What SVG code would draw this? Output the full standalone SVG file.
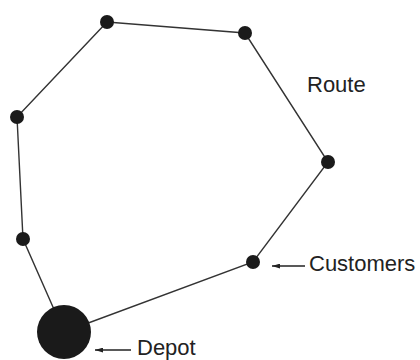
<svg xmlns="http://www.w3.org/2000/svg" width="420" height="360" viewBox="0 0 420 360">
<style>
.edge{stroke:#333;stroke-width:1.4;fill:none}
.node{fill:#1a1a1a}
.lbl{font-family:"Liberation Sans",Arial,sans-serif;font-size:22px;fill:#222}
.ptr{stroke:#222;stroke-width:1.3;fill:none;marker-end:url(#ah)}
</style>
<defs>
<marker id="ah" viewBox="0 0 10 6" refX="10" refY="3" markerWidth="8" markerHeight="5" orient="auto" markerUnits="userSpaceOnUse">
<path d="M0,0 L10,3 L0,6 Z" fill="#222"/>
</marker>
</defs>
<rect width="420" height="360" fill="#fff"/>
<g id="connectors">
<polyline class="edge" points="64,332 23,239 17,117 107,22 245,33 328,162 253,262 64,332"/>
</g>
<g id="n1"><circle class="node" cx="107" cy="22" r="7"/></g>
<g id="n2"><circle class="node" cx="245" cy="33" r="7"/></g>
<g id="n3"><circle class="node" cx="328" cy="162" r="7"/></g>
<g id="n4"><circle class="node" cx="253" cy="262" r="7"/></g>
<g id="n6"><circle class="node" cx="23" cy="239" r="7"/></g>
<g id="n7"><circle class="node" cx="17" cy="117" r="7"/></g>
<g id="depot"><circle class="node" cx="64" cy="332" r="27"/></g>
<g id="route-label"><text class="lbl" x="307" y="92">Route</text></g>
<g id="customers-label">
<line class="ptr" x1="305" y1="266" x2="272" y2="266"/>
<text class="lbl" x="309" y="271">Customers</text>
</g>
<g id="depot-label">
<line class="ptr" x1="131" y1="350" x2="95" y2="350"/>
<text class="lbl" x="137" y="355">Depot</text>
</g>
</svg>
